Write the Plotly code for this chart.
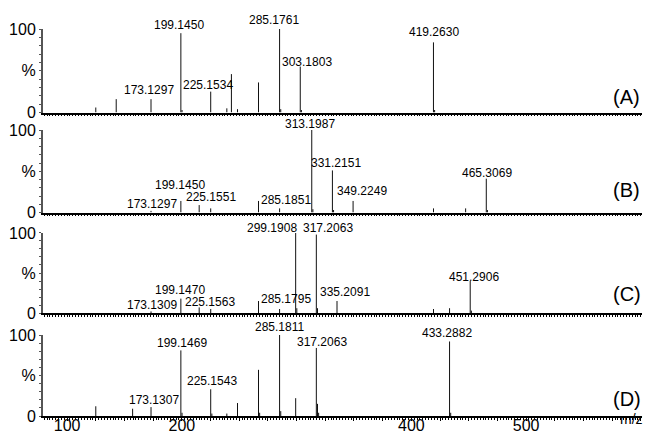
import plotly.graph_objects as go

# ---------------- data ----------------
panel_names = ["(A)", "(B)", "(C)", "(D)"]

mz_A = [125.0, 142.8, 173.1297, 199.1450, 200.15, 225.1534, 239.2, 243.2, 248.5,
        266.8, 285.1761, 286.18, 303.1803, 304.18, 419.2630, 420.27]
int_A = [6, 16, 16, 95, 3, 25, 5, 46, 4, 36, 100, 4, 55, 3, 84, 3]

mz_B = [173.1297, 199.1450, 215.1, 225.1551, 266.8, 285.1851, 313.1987, 314.2,
        331.2151, 332.2, 349.2249, 419.3, 447.3, 465.3069, 466.3]
int_B = [2, 14, 9, 5, 14, 5, 100, 4, 51, 3, 14, 5, 5, 41, 3]

mz_C = [173.1309, 199.1470, 215.1, 225.1563, 266.8, 285.1795, 299.1908, 300.19,
        317.2063, 318.21, 335.2091, 419.3, 433.3, 451.2906, 452.3]
int_C = [2, 18, 7, 5, 15, 5, 100, 6, 98, 6, 15, 5, 6, 40, 3]

mz_D = [125.0, 157.1, 173.1307, 199.1469, 200.15, 225.1543, 226.16, 239.2, 248.5,
        266.8, 267.8, 285.1811, 286.18, 299.2, 317.2063, 318.21, 319.2, 433.2882, 434.29]
int_D = [12, 9, 11, 81, 4, 33, 3, 3, 16, 57, 4, 100, 6, 22, 84, 15, 4, 92, 4]

labels_A = [173.1297, 199.1450, 225.1534, 285.1761, 303.1803, 419.2630]
labels_B = [173.1297, 199.1450, 225.1551, 285.1851, 313.1987, 331.2151, 349.2249, 465.3069]
labels_C = [173.1309, 199.1470, 225.1563, 285.1795, 299.1908, 317.2063, 335.2091, 451.2906]
labels_D = [173.1307, 199.1469, 225.1543, 285.1811, 317.2063, 433.2882]

x_tick_values = [100, 200, 400, 500]
x_tick_labels = ["100", "200", "400", "500"]
y_tick_values = [0, 50, 100]
y_tick_labels = ["0", "%", "100"]

# ---------------- styles / layout ----------------
label_offsets = [
    [(-2, 9), (-2, 8), (-3, 7), (-6, 9), (7, 5), (1, 10)],
    [(1, 7), (-1, 16), (0, 11), (6, 8), (-2, 6), (4, 7), (9, 10), (1, 6)],
    [(1, 6), (-1, 9), (-1, 7), (6, 10), (-24, 5), (12, 7), (8, 9), (4, 4)],
    [(3, 7), (1, 7), (1, 8), (0, 8), (6, 6), (-3, 8)],
]
panel_label_y = [19, 27, 24, 21.5]
domains = [[0.7842, 1.0], [0.5258, 0.739], [0.2661, 0.4729], [0.0, 0.2093]]
FONT = "Liberation Sans, Arial, Helvetica, sans-serif"
XR = [79, 601]
# the page body has an 8px margin, so the figure is offset by 8px
ML, MR, MT, MB = 35, 13, 21, 17
W, H = 647, 425

panels = [(mz_A, int_A, labels_A), (mz_B, int_B, labels_B),
          (mz_C, int_C, labels_C), (mz_D, int_D, labels_D)]

fig = go.Figure()
annotations = []
major_ticks = list(range(75, 601, 25))

for i, (mz, inten, labs) in enumerate(panels):
    n = i + 1
    xs, ys = [], []
    for m, h in zip(mz, inten):
        xs += [m, m, None]
        ys += [0, h, None]
    fig.add_trace(go.Scatter(x=xs, y=ys, mode="lines",
                             line=dict(color="#111111", width=1),
                             xaxis=f"x{n}", yaxis=f"y{n}",
                             showlegend=False, hoverinfo="skip"))
    lookup = dict(zip(mz, inten))
    for lab, (dx, dy) in zip(labs, label_offsets[i]):
        annotations.append(dict(
            x=lab, y=lookup[lab], xref=f"x{n}", yref=f"y{n}",
            text=f"{lab:.4f}", showarrow=False,
            xanchor="center", yanchor="middle", xshift=dx, yshift=dy,
            font=dict(family=FONT, size=12, color="black")))
    annotations.append(dict(
        x=0.9745, y=panel_label_y[i], xref="paper", yref=f"y{n}",
        text=panel_names[i], showarrow=False, xanchor="center", yanchor="middle",
        font=dict(family=FONT, size=20, color="black")))

    bottom = (n == 4)
    ticktext = []
    for t in major_ticks:
        if bottom and t in x_tick_values:
            ticktext.append(x_tick_labels[x_tick_values.index(t)])
        else:
            ticktext.append("")
    xa = dict(domain=[0, 1], anchor=f"y{n}", range=XR, showgrid=False, zeroline=False,
              automargin=False,
              showline=True, linecolor="black", linewidth=1.5,
              tickmode="array", tickvals=major_ticks, ticktext=ticktext,
              ticks="outside", ticklen=3, tickwidth=1, tickcolor="black",
              minor=dict(dtick=2.5, tick0=0, ticks="outside", ticklen=2,
                         tickcolor="black", tickwidth=1),
              tickfont=dict(family=FONT, size=16, color="black"),
              ticklabelstandoff=-9,
              showticklabels=bottom)
    ya = dict(domain=domains[i], anchor=f"x{n}", range=[0, 100], showgrid=False,
              zeroline=False, showline=True, linecolor="#555555", linewidth=2,
              automargin=False,
              tickmode="array", tickvals=y_tick_values, ticktext=y_tick_labels,
              ticks="outside", ticklen=2, tickcolor="#555555",
              minor=dict(dtick=10, ticks="outside", ticklen=2, tickcolor="#555555"),
              tickfont=dict(family=FONT, size=16, color="black"))
    fig.layout[f"xaxis{n}" if n > 1 else "xaxis"] = xa
    fig.layout[f"yaxis{n}" if n > 1 else "yaxis"] = ya

plot_w = W - ML - MR
plot_h = H - MT - MB
# m/z label: right-aligned so it stays inside the visible page
annotations.append(dict(x=(637 - ML) / plot_w, y=(H - MB - 411) / plot_h,
                        xref="paper", yref="paper", text="m/z",
                        xanchor="right", yanchor="middle",
                        showarrow=False, font=dict(family=FONT, size=14, color="black")))

fig.update_layout(width=W, height=H, margin=dict(l=ML, r=MR, t=MT, b=MB, autoexpand=False),
                  paper_bgcolor="white", plot_bgcolor="white",
                  annotations=annotations, font=dict(family=FONT))

fig.write_html("out.html")
